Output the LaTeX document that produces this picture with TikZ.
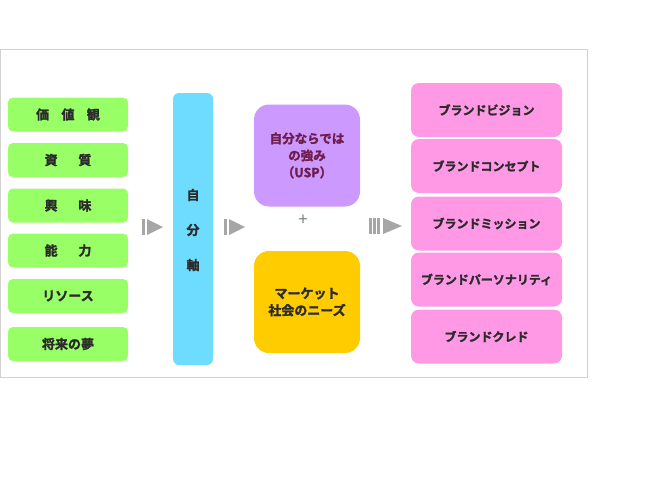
\documentclass[tikz,border=0pt]{standalone}
\usepackage{fontspec}
\setmainfont{Noto Sans CJK JP}[BoldFont={* Bold},BoldFeatures={FakeBold=1.8}]
\usetikzlibrary{positioning}
\definecolor{ngreen}{HTML}{99FF66}
\definecolor{nblue}{HTML}{6EDCFF}
\definecolor{npurple}{HTML}{CC99FF}
\definecolor{nyellow}{HTML}{FFCC00}
\definecolor{npink}{HTML}{FF99E6}
\definecolor{ntext}{HTML}{2B2B2B}
\definecolor{nmaroon}{HTML}{6E1C4C}
\begin{document}
\begin{tikzpicture}[x=1pt,y=-1pt,
every node/.style={font=\bfseries\fontsize{13}{17}\selectfont,text=ntext,align=center,inner sep=0pt},
greenbox/.style={fill=ngreen,rounded corners=5pt,minimum width=120pt,minimum height=34pt},
pinkbox/.style={fill=npink,rounded corners=8pt,minimum width=151pt,minimum height=54pt,font=\bfseries\fontsize{12}{14}\selectfont},
bigbox/.style={rounded corners=15pt,minimum width=106pt,minimum height=102pt},
arrowbar/.style={fill=gray!70}]
\useasboundingbox (0,0) rectangle (660,495);
\draw[gray!35] (0.5,49) rectangle (587,377);
% left column
\node[greenbox] (G1) at (68,114.5) {価\hspace{0.95em}値\hspace{0.95em}観};
\node[greenbox] (G2) at (68,160) {資\hspace{1.6em}質};
\node[greenbox] (G3) at (68,205.5) {興\hspace{1.6em}味};
\node[greenbox] (G4) at (68,250.5) {能\hspace{1.6em}力};
\node[greenbox] (G5) at (68,296) {リソース};
\node[greenbox] (G6) at (68,344) {将来の夢};
% axis
\node[fill=nblue,rounded corners=6pt,minimum width=40pt,minimum height=272pt] (AX) at (193,229) {};
\node (AX1) at (193,195) {自};
\node (AX2) at (193,230) {分};
\node (AX3) at (193,265) {軸};
% middle
\node[bigbox,fill=npurple,text=nmaroon,font=\bfseries\fontsize{12.5}{17}\selectfont] (USP) at (307,155.5) {自分ならでは\\の強み\\（USP）};
\node[font=\fontsize{17}{17}\selectfont,text=gray] (PL) at (303,220) {+};
\node[bigbox,fill=nyellow] (MK) at (307,302) {マーケット\\社会のニーズ};
% right column
\node[pinkbox] (B1) at (486.5,110) {ブランドビジョン};
\node[pinkbox] (B2) at (486.5,166) {ブランドコンセプト};
\node[pinkbox] (B3) at (486.5,223.5) {ブランドミッション};
\node[pinkbox] (B4) at (486.5,279.5) {ブランドパーソナリティ};
\node[pinkbox] (B5) at (486.5,336.5) {ブランドクレド};
% arrows
\fill[arrowbar] (142,219) rectangle (145,235);
\fill[arrowbar] (147,219) -- (163,227) -- (147,235) -- cycle;
\fill[arrowbar] (224,219) rectangle (227,235);
\fill[arrowbar] (229,219) -- (245,227) -- (229,235) -- cycle;
\foreach \bx in {369,373,377}
  \fill[arrowbar] (\bx,218) rectangle (\bx+2.5,234);
\fill[arrowbar] (383,218) -- (402,226) -- (383,234) -- cycle;
\end{tikzpicture}
\end{document}
